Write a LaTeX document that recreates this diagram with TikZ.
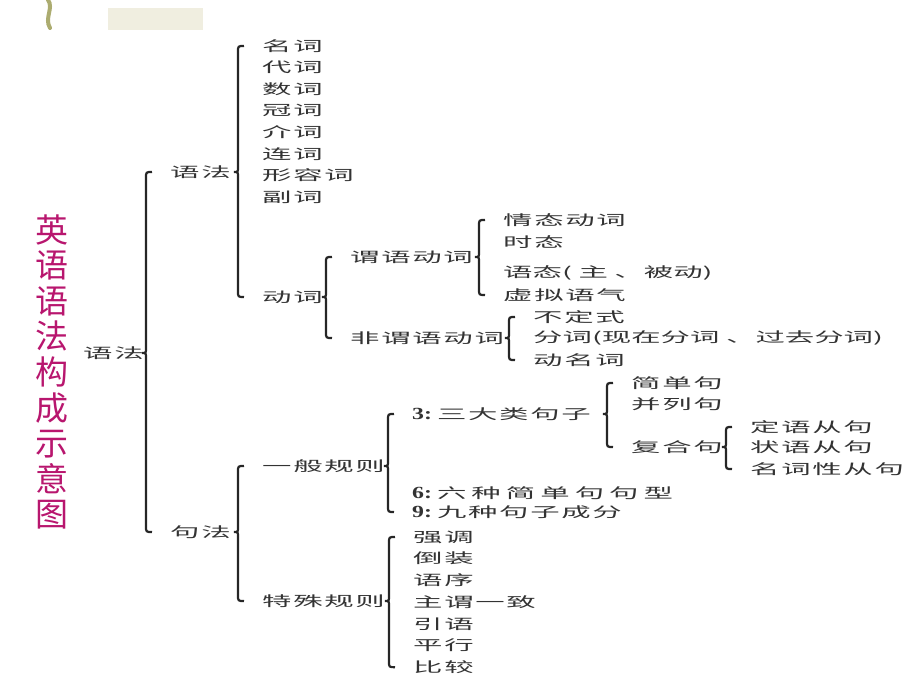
\documentclass[tikz,border=0pt]{standalone}
\usepackage{fontspec}
\usetikzlibrary{calc}
\newfontfamily\cjk[FakeStretch=2.1,LetterSpace=12]{Noto Sans CJK SC}
\newfontfamily\cjkeng[FakeStretch=2.1]{Noto Sans CJK SC}
\newfontfamily\cjkweit[FakeStretch=2.1,LetterSpace=36]{Noto Sans CJK SC}
\newfontfamily\titlefont{Noto Sans CJK SC}
\newfontfamily\numfont[FakeStretch=1.4]{Liberation Serif}
\definecolor{titlered}{RGB}{184,22,110}
\definecolor{olivedeco}{RGB}{172,172,112}
\definecolor{beigedeco}{RGB}{240,238,224}
\tikzset{
	item/.style={anchor=west, inner sep=0pt, text=black!80,
		font=\cjk\fontsize{14}{14}\selectfont},
	titel/.style={inner sep=0pt, align=center, text=titlered,
		font=\titlefont\fontsize{33}{35.6}\selectfont},
	kuo/.style={draw=black!85, line width=2.2pt},
}
\newcommand{\ziffer}[1]{{\numfont\bfseries\fontsize{17}{17}\selectfont #1}\hspace{5pt}}
% Klammer: Spitze bei #1, Enden bei #2 (oben) und #3 (unten)
\newcommand{\kuohao}[3]{%
	\draw[kuo] let \p1=(#1.east), \p2=(#2.west), \p3=(#3.west) in
		(\x2-18pt,\y2) .. controls (\x2-24pt,\y2) .. (\x2-24pt,\y2-6pt)
		-- (\x2-24pt,\y1+5pt) .. controls (\x2-24pt,\y1) .. (\x2-28pt,\y1)
		.. controls (\x2-24pt,\y1) .. (\x2-24pt,\y1-5pt)
		-- (\x2-24pt,\y3+6pt) .. controls (\x2-24pt,\y3) .. (\x2-18pt,\y3);}
\begin{document}
\begin{tikzpicture}[x=1pt,y=1pt]
	\useasboundingbox (0,0) rectangle (920,690);
	% Folienschmuck oben links
	\draw[olivedeco, line width=4pt, line cap=round] (48,690) .. controls (54,682)
	and (44,672) .. (50,662);
	\fill[beigedeco] (108,660) rectangle (203,682);

	% Titel
	\node[titel] (titel) at (52,318) {英\\语\\语\\法\\构\\成\\示\\意\\图};

	% Wurzel
	\node[item] (root) at (83,337) {语法};
	\node[item] (yufa) at (170,518) {语法};
	\node[item] (jufa) at (170,158) {句法};

	% Wortarten
	\foreach \w [count=\i] in {名词,代词,数词,冠词,介词,连词,形容词,副词}
		\node[item] (ci\i) at (262, {644-21.6*(\i-1)}) {\w};
	\node[item] (dongci) at (262,393) {动词};
	\node[item] (weiyu) at (350,433) {谓语动词};
	\node[item] (feiwei) at (350,352) {非谓语动词};
	\node[item] (qingtai) at (503,470) {情态动词};
	\node[item] (shitai) at (503,448) {时态};
	\node[item, font=\cjkeng\fontsize{14}{14}\selectfont] (yutai) at (503,417)
	{语态( 主 、被动)};
	\node[item] (xuni) at (503,395) {虚拟语气};
	\node[item] (budingshi) at (533,373) {不定式};
	\node[item, font=\cjkeng\fontsize{14}{14}\selectfont] (fenci) at (533,352)
	{分词(现在分词 、过去分词)};
	\node[item] (dongming) at (533,330) {动名词};

	% Satzlehre
	\node[item] (yiban) at (262,224) {一般规则};
	\node[item] (teshu) at (262,89) {特殊规则};
	\node[item] (sanda) at (412,276) {\ziffer{3:}三大类句子};
	\node[item] (jiandan) at (631,307) {简单句};
	\node[item] (binglie) at (631,286) {并列句};
	\node[item] (fuhe) at (631,243) {复合句};
	\node[item] (dingyu) at (750,263) {定语从句};
	\node[item] (zhuangyu) at (750,243) {状语从句};
	\node[item] (mingci) at (750,221) {名词性从句};
	\node[item, font=\cjkweit\fontsize{14}{14}\selectfont] (liuzhong) at (412,197)
	{\ziffer{6:}六种简单句句型};
	\node[item] (jiuzhong) at (412,178) {\ziffer{9:}九种句子成分};
	\foreach \w [count=\i] in {强调,倒装,语序,主谓一致,引语,平行,比较}
		\node[item] (te\i) at (413, {153-21.7*(\i-1)}) {\w};

	% Klammern
	\kuohao{root}{yufa}{jufa}
	\kuohao{yufa}{ci1}{dongci}
	\kuohao{dongci}{weiyu}{feiwei}
	\kuohao{weiyu}{qingtai}{xuni}
	\kuohao{feiwei}{budingshi}{dongming}
	\kuohao{jufa}{yiban}{teshu}
	\kuohao{yiban}{sanda}{jiuzhong}
	\kuohao{sanda}{jiandan}{fuhe}
	\kuohao{fuhe}{dingyu}{mingci}
	\kuohao{teshu}{te1}{te7}
\end{tikzpicture}
\end{document}
